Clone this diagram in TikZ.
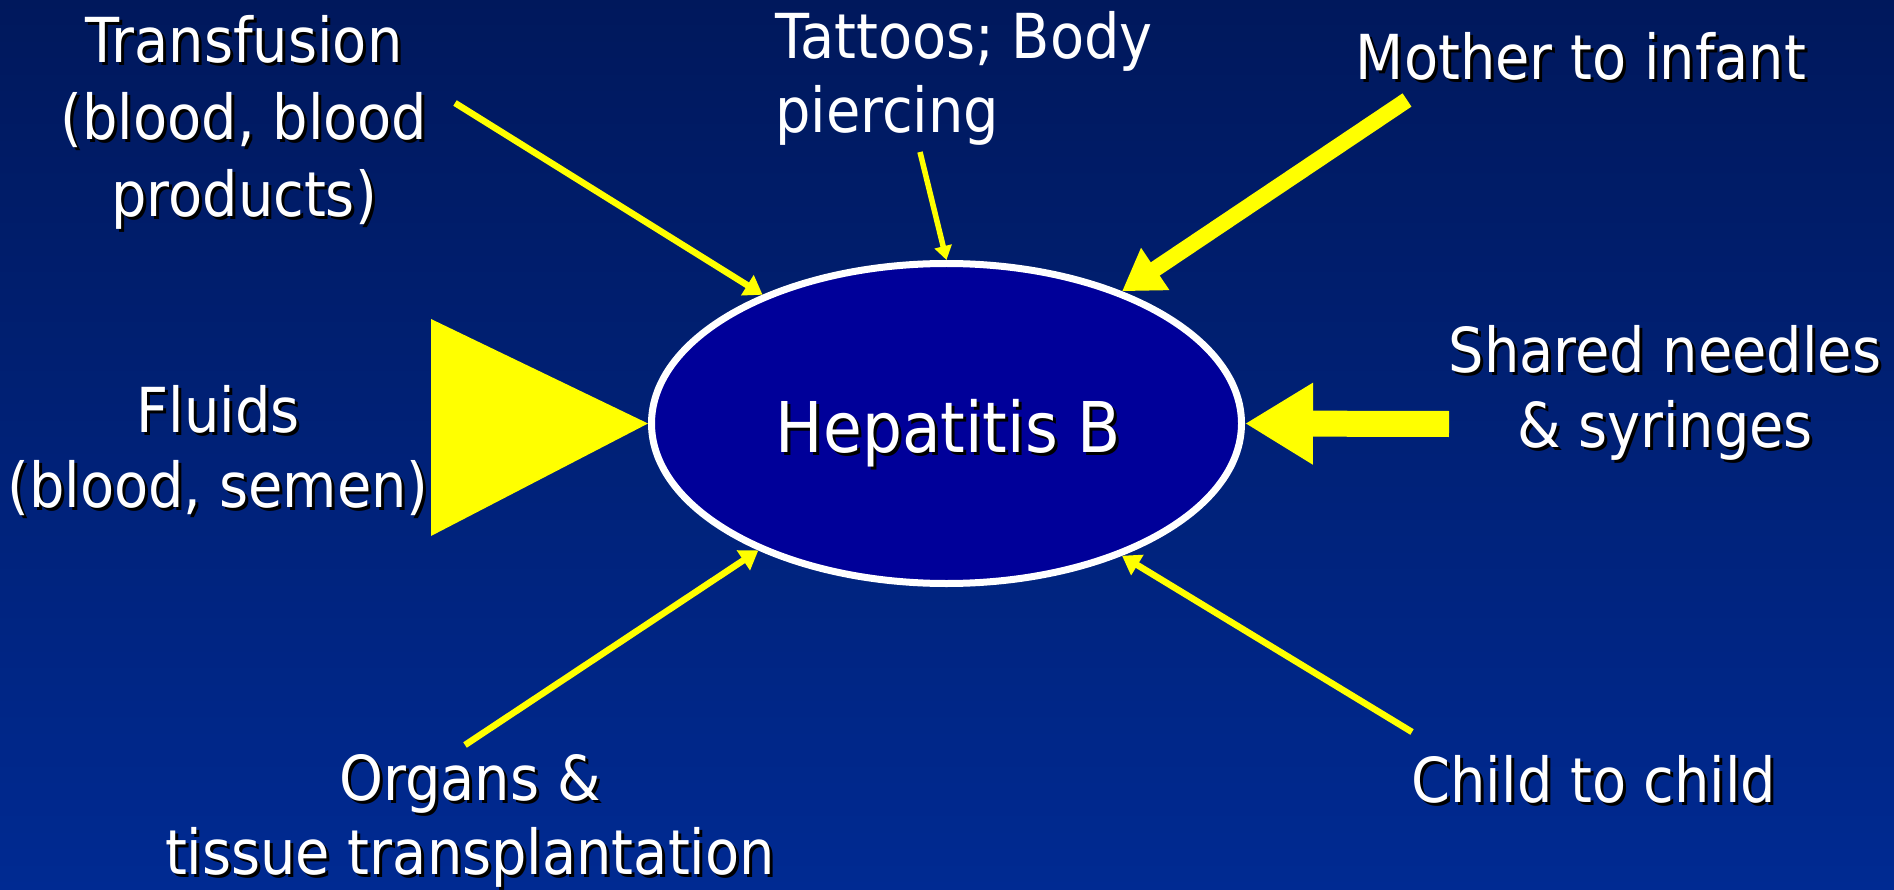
\documentclass[tikz,border=0pt]{standalone}
\usepackage{fontspec}
\setmainfont{DejaVu Sans}[FakeStretch=0.9]
\usetikzlibrary{arrows.meta,shapes.geometric}
\definecolor{bgtop}{RGB}{0,24,92}
\definecolor{bgbot}{RGB}{0,42,146}
\definecolor{ellfill}{RGB}{0,0,153}
\definecolor{ayellow}{RGB}{255,255,0}
\newcommand\shadowlabel[4]{%
  \node[lab,text=black,xshift=3pt,yshift=-3pt,#3] (#1-shadow) at (#2) {#4};
  \node[lab,#3] (#1) at (#2) {#4};}
\begin{document}
\begin{tikzpicture}[x=1pt,y=-1pt,
  lab/.style={font=\fontsize{62}{77}\selectfont, text=white, align=center, inner sep=0pt, anchor=base},
  thinarrow/.style={draw=ayellow, line width=6.5pt, -{Triangle[length=18pt,width=23pt]}},
  smallarrow/.style={draw=ayellow, line width=5.5pt, -{Triangle[length=14pt,width=17pt]}},
  bigarrow/.style={draw=ayellow, line width=16pt, -{Triangle[length=40pt,width=48pt]}},
  blockarrow/.style={draw=ayellow, line width=26pt, -{Triangle[length=68pt,width=77pt]}},
  hepstyle/.style={ellipse, draw=white, line width=7pt, fill=ellfill, minimum width=590pt, minimum height=320pt, inner sep=0pt}
]
\useasboundingbox (0,0) rectangle (1894,890);
\shade[top color=bgtop, bottom color=bgbot] (0,0) rectangle (1894,890);

% central ellipse
\node[hepstyle] (hep) at (946.5,423.5) {};
\node[lab,font=\fontsize{70}{84}\selectfont,text=black,xshift=3pt,yshift=-3pt] (heptext-shadow) at (948.5,452) {Hepatitis B};
\node[lab,font=\fontsize{70}{84}\selectfont] (heptext) at (948.5,452) {Hepatitis B};

% labels (anchor = baseline of the last line)
\shadowlabel{transfusion}{244,217}{}{Transfusion\\(blood, blood\\products)}
\node[lab,font=\fontsize{62}{74}\selectfont,align=left,anchor=base west] (tattoos) at (775,133) {Tattoos; Body\\piercing};
\shadowlabel{mother}{1581,80}{}{Mother to infant}
\shadowlabel{fluids}{218,507}{font=\fontsize{62}{75}\selectfont}{Fluids\\(blood, semen)}
\shadowlabel{needles}{1665,447}{font=\fontsize{62}{75}\selectfont}{Shared needles\\\& syringes}
\shadowlabel{organs}{470,874}{font=\fontsize{62}{74}\selectfont}{Organs \&\\tissue transplantation}
\shadowlabel{child}{1594,802}{}{Child to child}

% arrow start points
\coordinate (transfusion-start) at (455,103);
\coordinate (tattoos-start) at (920,152);
\coordinate (mother-start) at (1407,100);
\coordinate (needles-start) at (1449,424);
\coordinate (organs-start) at (465,745);
\coordinate (child-start) at (1412,732);
\coordinate (fluids-top) at (431,319);
\coordinate (fluids-bottom) at (431,536);

% connectors
\draw[thinarrow] (transfusion-start) -- (hep.145);
\draw[smallarrow] (tattoos-start) -- (hep.north);
\draw[bigarrow] (mother-start) -- (hep.37);
\draw[blockarrow] (needles-start) -- (hep.east);
\draw[thinarrow] (organs-start) -- (hep.214);
\draw[thinarrow] (child-start) -- (hep.323);
\fill[ayellow] (fluids-top) -- (hep.west) -- (fluids-bottom) -- cycle;
\end{tikzpicture}
\end{document}
